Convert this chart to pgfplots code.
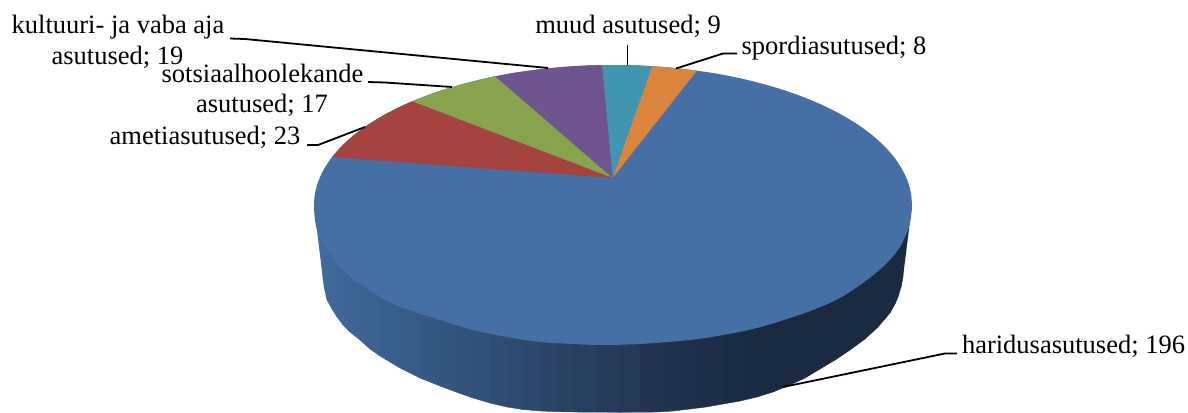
\documentclass[border=0pt]{standalone}
\usepackage{fontspec}
\setmainfont{Liberation Serif}
\usepackage{pgfplots}
\pgfplotsset{compat=1.18}
\definecolor{faceblue}{RGB}{70,111,165}
\definecolor{facered}{RGB}{165,67,64}
\definecolor{facegreen}{RGB}{135,163,76}
\definecolor{facepurple}{RGB}{111,85,144}
\definecolor{faceteal}{RGB}{64,150,174}
\definecolor{faceorange}{RGB}{218,132,60}
\tikzset{lab/.style={font=\fontsize{26.5}{30}\selectfont, inner sep=0pt, anchor=base}}
\begin{document}
\begin{tikzpicture}
\begin{axis}[
  scale only axis, width=1188pt, height=412pt,
  xmin=0, xmax=1188, ymin=0, ymax=412,
  y dir=reverse, hide axis, clip=false,
  point meta min=314, point meta max=912,
  colormap={side}{rgb255(314)=(64,108,158); rgb255(400)=(56,93,138); rgb255(500)=(48,78,116);
    rgb255(600)=(40,60,90); rgb255(680)=(32,49,75); rgb255(760)=(26,42,64); rgb255(912)=(26,42,64)},
]
% keeps the page as large as the axis
\path (axis cs:0,0) rectangle (axis cs:1188,412);
% side of the pie, strips shaded along x
\addplot[patch, patch type=rectangle, shader=faceted, faceted color=mapped color, line width=0.4pt, point meta=x] coordinates {
(323,205) (325,205) (325,291) (323,280)
(325,205) (327,205) (327,300) (325,291)
(327,205) (332,205) (332,309) (327,300)
(332,205) (337,205) (337,317) (332,309)
(337,205) (343,205) (343,325) (337,317)
(343,205) (350,205) (350,332) (343,325)
(350,205) (360,205) (360,340) (350,332)
(360,205) (370,205) (370,349) (360,340)
(370,205) (380,205) (380,356) (370,349)
(380,205) (390,205) (390,362) (380,356)
(390,205) (400,205) (400,368) (390,362)
(400,205) (410,205) (410,373) (400,368)
(410,205) (420,205) (420,378) (410,373)
(420,205) (430,205) (430,382) (420,378)
(430,205) (440,205) (440,386) (430,382)
(440,205) (456,205) (456,392) (440,386)
(456,205) (473,205) (473,398) (456,392)
(473,205) (490,205) (490,403) (473,398)
(490,205) (507,205) (507,407) (490,403)
(507,205) (523,205) (523,409.5) (507,407)
(523,205) (540,205) (540,411) (523,409.5)
(540,205) (557,205) (557,411.7) (540,411)
(557,205) (573,205) (573,412) (557,411.7)
(573,205) (597,205) (597,412.2) (573,412)
(597,205) (620,205) (620,412.3) (597,412.2)
(620,205) (640,205) (640,412.2) (620,412.3)
(640,205) (657,205) (657,412) (640,412.2)
(657,205) (673,205) (673,411) (657,412)
(673,205) (690,205) (690,409) (673,411)
(690,205) (706,205) (706,407) (690,409)
(706,205) (723,205) (723,404) (706,407)
(723,205) (740,205) (740,401) (723,404)
(740,205) (757,205) (757,397) (740,401)
(757,205) (773,205) (773,392) (757,397)
(773,205) (790,205) (790,385) (773,392)
(790,205) (805,205) (805,378) (790,385)
(805,205) (820,205) (820,369) (805,378)
(820,205) (835,205) (835,360) (820,369)
(835,205) (850,205) (850,350) (835,360)
(850,205) (865,205) (865,339) (850,350)
(865,205) (877,205) (877,328) (865,339)
(877,205) (884,205) (884,320) (877,328)
(884,205) (890,205) (890,313) (884,320)
(890,205) (895,205) (895,304) (890,313)
(895,205) (898,205) (898,297) (895,304)
(898,205) (901,205) (901,287) (898,297)
(901,205) (903,205) (903,277) (901,287)
};
% narrow ends of the side, left and right of the strips
\addplot[fill={rgb,255:red,64;green,108;blue,158}, draw=none] coordinates {(314,205) (323,205) (323,280)} --cycle;
\addplot[fill={rgb,255:red,26;green,42;blue,64}, draw=none] coordinates {(903,205) (912,205) (903,277)} --cycle;
% top face, whole outline in blue
\addplot[fill=faceblue, draw=none, smooth] coordinates {
(912,205) (910.9,192.8) (907.5,180.7) (901.8,168.8) (894,157.1) (884,145.8) (872,135) (858,124.7)
(842,115) (824.4,106) (805.2,97.8) (784.5,90.3) (762.5,83.8) (739.4,78.1) (715.3,73.4) (690.4,69.8)
(664.9,67.1) (639.1,65.5) (613,65) (586.9,65.5) (561.1,67.1) (535.6,69.8) (510.7,73.4) (486.6,78.1)
(463.5,83.8) (441.5,90.3) (420.8,97.8) (401.6,106) (384,115) (368,124.7) (354,135) (342,145.8)
(332,157.1) (324.2,168.8) (318.5,180.7) (315.1,192.8) (314,205)
(315,220) (318,233) (327,250) (340,267) (353,279) (377,295) (403,308) (440,320) (473,330) (507,337)
(540,342) (573,344) (600,345) (640,344) (690,340) (723,335) (757,328) (790,318) (813,310) (840,298)
(867,280) (887,263) (900,247) (908,230) (911,217) (912,205)
} --cycle;
% slices
\addplot[fill=faceorange, draw=none] coordinates {(612.5,178) (697,70.6) (690.4,69.8) (664.9,67.1) (652,66.2)} --cycle;
\addplot[fill=faceteal, draw=none] coordinates {(612.5,178) (652,66.2) (639.1,65.5) (613,65) (602,65.2)} --cycle;
\addplot[fill=facepurple, draw=none] coordinates {(612.5,178) (602,65.2) (586.9,65.5) (561.1,67.1) (535.6,69.8) (510.7,73.4) (495,76.4)} --cycle;
\addplot[fill=facegreen, draw=none] coordinates {(612.5,178) (495,76.4) (486.6,78.1) (463.5,83.8) (441.5,90.3) (420.8,97.8) (412,101.4)} --cycle;
\addplot[fill=facered, draw=none] coordinates {(612.5,178) (412,101.4) (401.6,106) (384,115) (368,124.7) (354,135) (342,145.8) (332,157.1)} --cycle;
% leader lines
\addplot[black, line width=1.8pt] coordinates {(230,38.5) (245,39) (548,68)};
\addplot[black, line width=1.8pt] coordinates {(368,82) (385,82.5) (452,87)};
\addplot[black, line width=1.8pt] coordinates {(307,145) (318,145) (365,127)};
\addplot[black, line width=1.8pt] coordinates {(627.5,45) (627.5,65)};
\addplot[black, line width=1.8pt] coordinates {(737,53.5) (723,53.5) (676,68.5)};
\addplot[black, line width=1.8pt] coordinates {(957,353.5) (945,353.5) (783,387)};
% labels
\node[lab] at (axis cs:118,33) {kultuuri- ja vaba aja};
\node[lab] at (axis cs:117.5,64.5) {asutused; 19};
\node[lab] at (axis cs:262.5,82.5) {sotsiaalhoolekande};
\node[lab] at (axis cs:262,112.7) {asutused; 17};
\node[lab] at (axis cs:205,144) {ametiasutused; 23};
\node[lab] at (axis cs:628,33.7) {muud asutused; 9};
\node[lab] at (axis cs:834,54.3) {spordiasutused; 8};
\node[lab] at (axis cs:1073.5,353) {haridusasutused; 196};
\end{axis}
\end{tikzpicture}
\end{document}
